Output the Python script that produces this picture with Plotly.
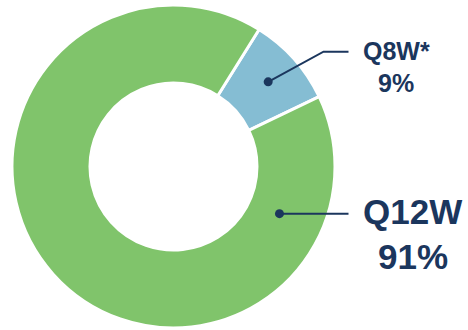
import math
import plotly.graph_objects as go

# Share of patients by dosing schedule
labels = ["Q8W*", "Q12W"]
values = [9, 91]
colors = ["#85BDD3", "#80C46B"]

W, H = 468, 330
NAVY = "#1B365D"
FONT = "Arial, Liberation Sans, sans-serif"

# Pie geometry in pixels
cx, cy, r_out = 173.5, 166.5, 161.5
hole = 0.517
rotation = 32


def px(x, y):
    return x / W, 1 - y / H


fig = go.Figure(go.Pie(
    labels=labels,
    values=values,
    sort=False,
    direction="clockwise",
    rotation=rotation,
    hole=hole,
    marker=dict(colors=colors, line=dict(color="white", width=3)),
    textinfo="none",
    hoverinfo="label+percent",
    showlegend=False,
    domain=dict(x=[(cx - r_out) / W, (cx + r_out) / W],
                y=[1 - (cy + r_out) / H, 1 - (cy - r_out) / H]),
))


def ring_point(angle_deg, radius):
    a = math.radians(angle_deg)
    return cx + radius * math.sin(a), cy - radius * math.cos(a)


total = sum(values)
blue_angle = rotation + 360 * values[0] / total / 2
bx, by = ring_point(blue_angle, 127)
gx, gy = ring_point(114, 116)

shapes = []
# leader lines
x0, y0 = px(bx, by)
x1, y1 = px(323.5, 51.7)
x2, y2 = px(348.5, 51.7)
shapes.append(dict(type="path", xref="paper", yref="paper",
                   path=f"M {x0} {y0} L {x1} {y1} L {x2} {y2}",
                   line=dict(color=NAVY, width=2)))
x0, y0 = px(gx, gy)
x2, y2 = px(348.5, gy)
shapes.append(dict(type="line", xref="paper", yref="paper",
                   x0=x0, y0=y0, x1=x2, y1=y2,
                   line=dict(color=NAVY, width=2)))
# dots
for (dx, dy) in [(bx, by), (gx, gy)]:
    a0, b0 = px(dx - 4.5, dy + 4.5)
    a1, b1 = px(dx + 4.5, dy - 4.5)
    shapes.append(dict(type="circle", xref="paper", yref="paper",
                       x0=a0, y0=b0, x1=a1, y1=b1,
                       fillcolor=NAVY, line=dict(width=0)))

annotations = []
for text, x, y, size in [
    (labels[0], 396, 51.5, 25),
    (f"{values[0]}%", 396, 83, 25),
    (labels[1], 412, 211, 35),
    (f"{values[1]}%", 413, 256, 35),
]:
    ax, ay = px(x, y)
    annotations.append(dict(text=f"<b>{text}</b>", x=ax, y=ay,
                            xref="paper", yref="paper",
                            xanchor="center", yanchor="middle",
                            showarrow=False,
                            font=dict(family=FONT, size=size, color=NAVY)))

fig.update_layout(
    width=W, height=H,
    margin=dict(l=0, r=0, t=0, b=0),
    paper_bgcolor="white",
    plot_bgcolor="white",
    shapes=shapes,
    annotations=annotations,
)

fig.write_html("out.html")
